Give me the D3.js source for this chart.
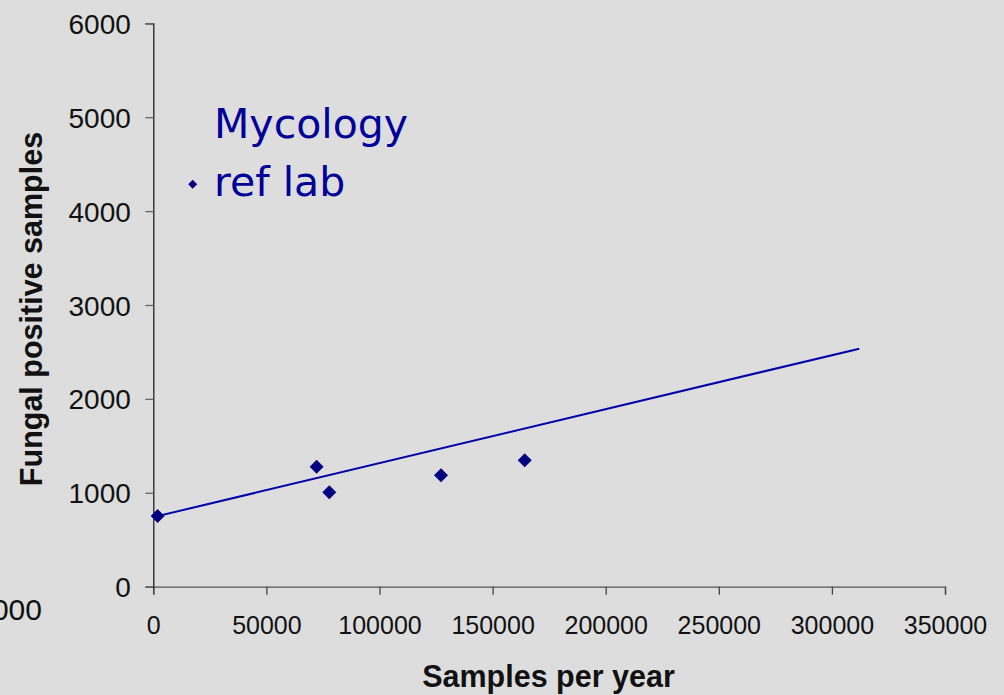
<!DOCTYPE html>
<html>
<head>
<meta charset="utf-8">
<script src="https://cdn.jsdelivr.net/npm/d3@7"></script>
<style>
  html, body { margin: 0; padding: 0; background: #dddddd; overflow: hidden; }
  svg { display: block; }
  .tick text { font-family: "Liberation Sans", Arial, sans-serif; fill: #111; }
  .xaxis .tick text { font-size: 25px; }
  .yaxis .tick text { font-size: 28px; }
  .axisTitle { font-family: "Liberation Sans", Arial, sans-serif; font-size: 30.5px; font-weight: bold; fill: #111; }
  .legendText { font-family: "Comic Sans MS", "DejaVu Sans", sans-serif; font-size: 41px; fill: #000099; }
</style>
</head>
<body>
<div class="chart"></div>
<script>
// data
var samplesPerYear = [1900, 72200, 77800, 127200, 164200];
var fungalPositive = [753, 1278, 1005, 1186, 1346];
// trend line end points
var trendX = [0, 312100];
var trendY = [741, 2535];
var xTicks = [0, 50000, 100000, 150000, 200000, 250000, 300000, 350000];
var yTicks = [0, 1000, 2000, 3000, 4000, 5000, 6000];
var legendLines = ["Mycology", "ref lab"];

var svgWidth = 1004, svgHeight = 695;
var margin = { top: 23.3, left: 153.3, right: 59, bottom: 108.3 };
var width = svgWidth - margin.left - margin.right;
var height = svgHeight - margin.top - margin.bottom;

var svg = d3.select(".chart").append("svg")
    .attr("width", svgWidth)
    .attr("height", svgHeight);

svg.append("rect").attr("width", svgWidth).attr("height", svgHeight).attr("fill", "#dddddd");

var chartGroup = svg.append("g")
    .attr("transform", `translate(${margin.left}, ${margin.top})`);

// scales
var xScale = d3.scaleLinear().domain([0, 350000]).range([0, width]);
var yScale = d3.scaleLinear().domain([0, 6000]).range([height, 0]);

// axes
var xAxis = chartGroup.append("g")
    .attr("class", "xaxis")
    .attr("transform", `translate(0, ${height})`)
    .call(d3.axisBottom(xScale).tickValues(xTicks).tickFormat(d3.format("d")).tickSize(8).tickPadding(21.5));
xAxis.select(".domain").attr("stroke", "#555").attr("stroke-width", 1.3);
xAxis.selectAll(".tick line").attr("stroke", "#444").attr("stroke-width", 1.3);

var yAxis = chartGroup.append("g")
    .attr("class", "yaxis")
    .call(d3.axisLeft(yScale).tickValues(yTicks).tickFormat(d3.format("d")).tickSize(8).tickPadding(14.5));
yAxis.select(".domain").attr("stroke", "#222").attr("stroke-width", 1.3);
yAxis.selectAll(".tick line").attr("stroke", "#666").attr("stroke-width", 1.3);
yAxis.selectAll(".tick text").attr("dy", "0.36em");

// trend line
var trend = trendX.map((x, i) => [x, trendY[i]]);
chartGroup.append("path")
    .datum(trend)
    .attr("d", d3.line().x(d => xScale(d[0])).y(d => yScale(d[1])))
    .attr("fill", "none")
    .attr("stroke", "#0000a8")
    .attr("stroke-width", 2);

// points (diamonds)
var diamond = d3.symbol().type(d3.symbolSquare).size(98);
chartGroup.selectAll(".pt")
    .data(samplesPerYear.map((x, i) => [x, fungalPositive[i]]))
    .enter()
    .append("path")
    .attr("class", "pt")
    .attr("d", diamond)
    .attr("transform", d => `translate(${xScale(d[0])}, ${yScale(d[1])}) rotate(45)`)
    .attr("fill", "#000080");

// legend
var legend = svg.append("g");
legend.append("path")
    .attr("d", d3.symbol().type(d3.symbolSquare).size(40))
    .attr("transform", "translate(192.7, 184.3) rotate(45)")
    .attr("fill", "#000080");
legend.selectAll("text")
    .data(legendLines)
    .enter()
    .append("text")
    .attr("class", "legendText")
    .attr("x", 214)
    .attr("y", (d, i) => 138 + i * 58)
    .text(d => d);

// axis titles
svg.append("text")
    .attr("class", "axisTitle")
    .attr("text-anchor", "middle")
    .attr("x", 548.5)
    .attr("y", 686.5)
    .text("Samples per year");

svg.append("text")
    .attr("class", "axisTitle")
    .attr("text-anchor", "middle")
    .attr("transform", "translate(42.3, 309) rotate(-90)")
    .text("Fungal positive samples");

// stray clipped label at lower left
svg.append("text")
    .attr("x", 42)
    .attr("y", 620)
    .attr("text-anchor", "end")
    .style("font-family", "Liberation Sans, Arial, sans-serif")
    .style("font-size", "30px")
    .attr("fill", "#111")
    .text("1000");
</script>
</body>
</html>
